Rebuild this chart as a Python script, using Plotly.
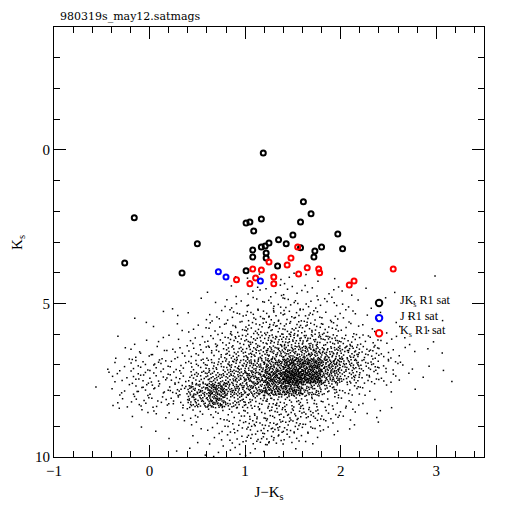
import plotly.graph_objects as go

# ---- data ----
# saturated stars (J-Ks, Ks)
jk_sat_x = [1.19, -0.16, -0.26, 0.50, 0.34, 1.01, 1.05, 1.17, 1.09, 1.08, 1.08, 1.17, 1.21, 1.25,
            1.22, 1.22, 1.01, 1.35, 1.34, 1.61, 1.69, 1.58, 1.50, 1.97, 1.43, 1.80, 1.73, 1.72,
            2.02, 1.58]
jk_sat_y = [0.10, 2.21, 3.68, 3.06, 4.01, 2.38, 2.35, 2.25, 2.64, 3.26, 3.49, 3.16, 3.13, 3.03,
            3.36, 3.52, 3.94, 2.93, 3.78, 1.69, 2.08, 2.35, 2.77, 2.74, 3.06, 3.16, 3.29, 3.49,
            3.22, 3.19]
j_sat_x = [0.72, 0.80, 1.16]
j_sat_y = [3.97, 4.14, 4.27]
ks_sat_x = [1.08, 1.17, 1.25, 0.91, 1.05, 1.11, 1.30, 1.30, 1.55, 1.48, 1.44, 1.65, 1.77, 1.78,
            1.56, 2.14, 2.09, 2.55]
ks_sat_y = [3.88, 3.91, 3.65, 4.23, 4.36, 4.17, 4.14, 4.36, 3.16, 3.52, 3.75, 3.84, 3.88, 4.00,
            4.04, 4.27, 4.40, 3.88]

# field stars: number of stars per (J-Ks, Ks) cell
cell_x0 = [-0.6, -0.4, -0.2, 0.0, 0.2, 0.4, 0.6, 0.8, 1.0, 1.2, 1.4, 1.6, 1.8, 2.0, 2.2, 2.4,
           2.6, 2.8, 3.0]
cell_y0 = [4.0, 4.4, 4.8, 5.2, 5.6, 6.0, 6.4, 6.8, 7.2, 7.6, 8.0, 8.4, 8.8, 9.2, 9.6]
cell_counts = [
    [0, 0, 0, 0, 0, 0, 0, 1, 3, 3, 3, 2, 1, 1, 0, 0, 0, 1, 0],
    [0, 0, 0, 0, 0, 0, 1, 2, 4, 5, 5, 4, 3, 2, 1, 1, 0, 0, 0],
    [0, 0, 0, 0, 1, 1, 2, 4, 6, 8, 8, 7, 5, 3, 1, 1, 1, 0, 0],
    [0, 0, 1, 1, 1, 2, 5, 8, 11, 12, 12, 10, 7, 4, 2, 1, 1, 0, 1],
    [0, 0, 1, 1, 2, 4, 6, 10, 15, 17, 17, 15, 10, 6, 3, 2, 1, 1, 0],
    [0, 1, 2, 2, 3, 6, 10, 16, 20, 26, 28, 28, 22, 15, 8, 4, 2, 1, 0],
    [0, 2, 5, 6, 6, 8, 13, 20, 28, 36, 42, 45, 38, 28, 15, 6, 3, 1, 1],
    [1, 4, 9, 10, 8, 13, 20, 30, 40, 60, 95, 95, 60, 32, 18, 8, 3, 1, 1],
    [1, 5, 10, 10, 10, 20, 32, 40, 55, 95, 150, 120, 50, 25, 12, 6, 2, 1, 1],
    [1, 5, 10, 9, 13, 40, 75, 45, 45, 75, 80, 40, 20, 10, 5, 2, 1, 0, 0],
    [0, 4, 8, 8, 10, 35, 60, 26, 20, 20, 18, 13, 8, 5, 2, 1, 0, 0, 0],
    [0, 1, 3, 3, 4, 6, 8, 10, 13, 16, 18, 15, 10, 5, 2, 1, 0, 0, 0],
    [0, 0, 1, 1, 1, 3, 5, 10, 15, 18, 15, 10, 5, 2, 1, 0, 0, 0, 0],
    [0, 0, 0, 0, 1, 2, 4, 8, 13, 13, 8, 4, 1, 0, 0, 0, 0, 0, 0],
    [0, 0, 0, 0, 1, 2, 3, 3, 4, 2, 1, 0, 0, 0, 0, 0, 0, 0, 0],
]
cell_w = 0.2
cell_h = 0.4

x_ticks = [-1, 0, 1, 2, 3]
y_ticks = [0, 5, 10]
legend_labels = ["JK<sub>s</sub> R1 sat", "J R1 sat", "K<sub>s</sub> R1 sat"]
legend_colors = ["black", "#0000ff", "#ff0000"]


def halton(i, b):
    f, r = 1.0, 0.0
    while i > 0:
        f /= b
        r += f * (i % b)
        i //= b
    return r


dots_x, dots_y = [], []
k = 1
for r, y0 in enumerate(cell_y0):
    for c, x0 in enumerate(cell_x0):
        for _ in range(cell_counts[r][c]):
            dots_x.append(x0 + cell_w * halton(k, 2))
            dots_y.append(y0 + cell_h * halton(k, 3))
            k += 1

FONT = "Liberation Serif"

fig = go.Figure()
fig.add_trace(go.Scatter(x=dots_x, y=dots_y, mode="markers", showlegend=False,
                         marker=dict(symbol="square", size=1.5, color="black", line=dict(width=0)),
                         hoverinfo="skip"))
circ = dict(symbol="circle-open", size=5)
fig.add_trace(go.Scatter(x=jk_sat_x, y=jk_sat_y, mode="markers", showlegend=False,
                         marker=dict(color="black", line=dict(width=2), **circ)))
fig.add_trace(go.Scatter(x=ks_sat_x, y=ks_sat_y, mode="markers", showlegend=False,
                         marker=dict(color="#ff0000", line=dict(width=2), **circ)))
fig.add_trace(go.Scatter(x=j_sat_x, y=j_sat_y, mode="markers", showlegend=False,
                         marker=dict(color="#0000ff", line=dict(width=2), **circ)))

axis_common = dict(showgrid=False, zeroline=False, showline=True, linecolor="black", linewidth=1,
                   mirror="allticks", ticks="inside", ticklen=12, tickwidth=1, tickcolor="black",
                   tickfont=dict(family=FONT, size=15, color="black"), automargin=False)

fig.update_xaxes(range=[-1, 3.5], tickvals=x_ticks,
                 ticktext=[str(v).replace("-", "\u2212") for v in x_ticks],
                 minor=dict(dtick=0.2, tick0=0, ticks="inside", ticklen=6, tickcolor="black", tickwidth=1),
                 title=dict(text="J\u2212K<sub>s</sub>", font=dict(family=FONT, size=15, color="black"),
                            standoff=8),
                 **axis_common)
fig.update_yaxes(range=[10, -4], tickvals=y_ticks,
                 minor=dict(dtick=1, tick0=0, ticks="inside", ticklen=6, tickcolor="black", tickwidth=1),
                 **axis_common)

# y-axis title as a rotated annotation (kept close to the page edge as in the reference)
fig.add_annotation(text="K<sub>s</sub>", xref="paper", yref="paper", x=-0.084, y=0.50,
                   xanchor="center", yanchor="middle", textangle=-90, showarrow=False,
                   font=dict(family=FONT, size=15, color="black"))

fig.add_annotation(text="980319s_may12.satmags", xref="paper", yref="paper", x=0.01, y=1.0,
                   xanchor="left", yanchor="bottom", showarrow=False, yshift=2,
                   font=dict(family="DejaVu Serif", size=11, color="black"))

# legend (symbols + labels) placed in paper coordinates
leg_x, leg_y0, leg_dy, rad = 0.756, 0.358, 0.035, 0.0075
for i, (lab, col) in enumerate(zip(legend_labels, legend_colors)):
    yy = leg_y0 - i * leg_dy
    fig.add_shape(type="circle", xref="paper", yref="paper", x0=leg_x - rad, x1=leg_x + rad,
                  y0=yy - rad, y1=yy + rad, line=dict(color=col, width=2))
    fig.add_annotation(text=lab, xref="paper", yref="paper", x=0.800, y=yy + 0.004,
                       xanchor="left", yanchor="middle", showarrow=False,
                       font=dict(family=FONT, size=12, color="black"))

fig.update_layout(
    width=504, height=504,
    margin=dict(l=46, r=28, t=19, b=55),
    paper_bgcolor="white", plot_bgcolor="white",
    showlegend=False,
)

fig.write_html("out.html")
